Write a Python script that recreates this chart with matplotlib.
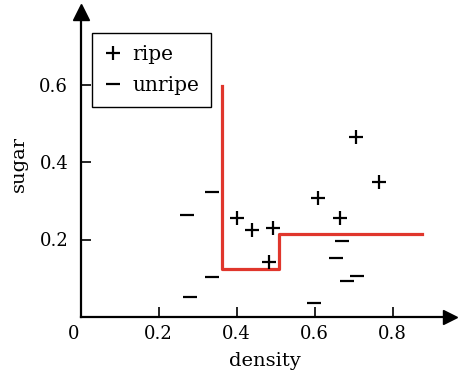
import matplotlib
matplotlib.use("Agg")
import matplotlib.pyplot as plt

# --- Data ---
ripe_density = [0.706, 0.766, 0.608, 0.665, 0.402, 0.438, 0.494, 0.484]
ripe_sugar = [0.465, 0.349, 0.306, 0.256, 0.256, 0.225, 0.229, 0.143]

unripe_density = [0.336, 0.273, 0.336, 0.280, 0.598, 0.669, 0.655, 0.682, 0.709]
unripe_sugar = [0.322, 0.263, 0.104, 0.052, 0.035, 0.196, 0.153, 0.093, 0.106]

# decision boundary (step line)
boundary_x = [0.363, 0.363, 0.509, 0.509, 0.874]
boundary_y = [0.596, 0.124, 0.124, 0.214, 0.214]

xticks = [0.2, 0.4, 0.6, 0.8]
yticks = [0.2, 0.4, 0.6]

plt.rcParams['font.family'] = ['DejaVu Serif']
plt.rcParams['font.size'] = 13

W, H = 458, 377
fig = plt.figure(figsize=(W / 100, H / 100), dpi=100)
x0_px, y0_px, right_px, top_px = 80.7, 317, 450, 12
ax = fig.add_axes([x0_px / W, 1 - y0_px / H, (right_px - x0_px) / W, (y0_px - top_px) / H])
ax.set_xlim(0, (right_px - x0_px) / 390)
ax.set_ylim(0, (y0_px - top_px) / 387.5)

ax.spines['top'].set_visible(False)
ax.spines['right'].set_visible(False)
for s in ['left', 'bottom']:
    ax.spines[s].set_linewidth(1.6)

# arrow heads
ax.plot(1, 0, '>', color='black', ms=10, transform=ax.transAxes, clip_on=False)
ax.plot(0, 1, '^', color='black', ms=11, transform=ax.transAxes, clip_on=False)

ax.set_xticks(xticks)
ax.set_yticks(yticks)
ax.set_xticklabels([f'{v:.1f}' for v in xticks])
ax.set_yticklabels([f'{v:.1f}' for v in yticks])
ax.tick_params(direction='in', length=7, width=1.2, labelsize=13)
ax.tick_params(axis='x', pad=6)
ax.tick_params(axis='y', pad=9)
ax.text(-0.004, -0.02, '0', ha='right', va='top', fontsize=13)

ax.plot(boundary_x, boundary_y, color='#e0362c', lw=2.3, zorder=2)

ax.plot(ripe_density, ripe_sugar, '+', color='black', ms=10, mew=1.6, ls='none', label='ripe', zorder=3)
ax.plot(unripe_density, unripe_sugar, '_', color='black', ms=10, mew=1.6, ls='none', label='unripe', zorder=3)

leg = ax.legend(loc='upper left', bbox_to_anchor=(92 / W, 1 - 33 / H), bbox_transform=fig.transFigure,
                borderaxespad=0, fancybox=False, framealpha=1, edgecolor='black',
                handlelength=0.9, handletextpad=0.5, borderpad=0.6, labelspacing=0.6, fontsize=14.5)
leg.get_frame().set_linewidth(1.0)

ax.set_xlabel('density', fontsize=14, labelpad=6)
ax.set_ylabel('sugar', fontsize=14, labelpad=8)

fig.savefig('out.png', dpi=100)
